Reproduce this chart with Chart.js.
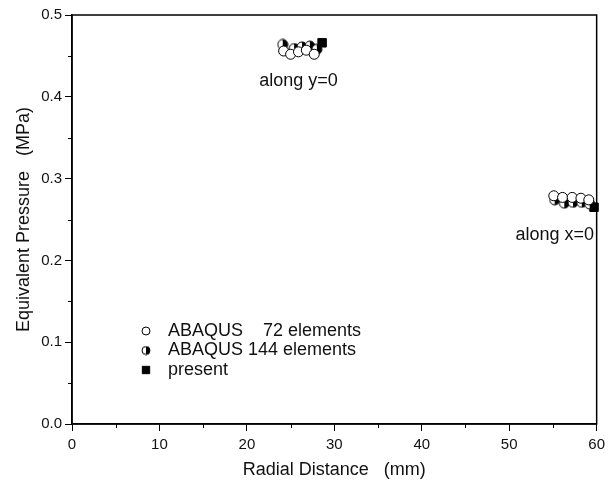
<!DOCTYPE html>
<html>
<head>
<meta charset="utf-8">
<script src="https://cdn.jsdelivr.net/npm/chart.js@4/dist/chart.umd.min.js"></script>
<style>
  html, body { margin: 0; padding: 0; background: #fff; }
  #wrap { width: 610px; height: 485px; }
</style>
</head>
<body>
<div id="wrap"><canvas id="c" width="610" height="485"></canvas></div>
<script>
// values
var abaqus72X = [24.2, 25.0, 25.9, 26.8, 27.7, 55.1, 56.1, 57.2, 58.2, 59.1];
var abaqus72Y = [0.456, 0.452, 0.455, 0.457, 0.452, 0.279, 0.277, 0.277, 0.276, 0.274];
var abaqus144X = [24.1, 25.4, 26.3, 27.2, 28.0, 55.2, 56.3, 57.3, 58.3, 59.2];
var abaqus144Y = [0.464, 0.459, 0.461, 0.462, 0.458, 0.274, 0.270, 0.271, 0.271, 0.269];
var presentX = [28.6, 59.7];
var presentY = [0.466, 0.265];

var seriesNames = ["ABAQUS    72 elements", "ABAQUS 144 elements", "present"];
var notes = [
	{ text: "along y=0", x: 25.9, y: 0.419 },
	{ text: "along x=0", x: 55.2, y: 0.231 },
];

var xMinor = [5, 15, 25, 35, 45, 55];
var yMinor = [0.05, 0.15, 0.25, 0.35, 0.45];

var FONT = "'Liberation Sans', Arial, sans-serif";

function toPoints(xs, ys) {
	return xs.map(function (x, i) { return { x: x, y: ys[i] }; });
}

// half filled circle marker (right half black)
function halfCircle(r) {
	var size = Math.ceil(r * 2 + 2);
	var cv = document.createElement("canvas");
	cv.width = size;
	cv.height = size;
	var g = cv.getContext("2d");
	var c = size / 2;
	g.fillStyle = "#fff";
	g.beginPath();
	g.arc(c, c, r, 0, Math.PI * 2);
	g.fill();
	g.fillStyle = "#000";
	g.beginPath();
	g.arc(c, c, r, -Math.PI / 2, Math.PI / 2);
	g.closePath();
	g.fill();
	g.strokeStyle = "#000";
	g.lineWidth = 1;
	g.beginPath();
	g.arc(c, c, r, 0, Math.PI * 2);
	g.stroke();
	return cv;
}

var halfMarker = halfCircle(5);
var halfMarkerSmall = halfCircle(4);

// frame, minor ticks, notes and legend
var extras = {
	id: "extras",
	afterDraw: function (chart) {
		var ctx = chart.ctx;
		var a = chart.chartArea;
		var xs = chart.scales.x;
		var ys = chart.scales.y;
		ctx.save();
		ctx.strokeStyle = "#000";
		ctx.lineWidth = 1.5;
		ctx.strokeRect(a.left, a.top, a.right - a.left, a.bottom - a.top);

		ctx.lineWidth = 1;
		ctx.beginPath();
		xMinor.forEach(function (v) {
			var px = Math.round(xs.getPixelForValue(v)) + 0.5;
			ctx.moveTo(px, a.bottom);
			ctx.lineTo(px, a.bottom + 4);
		});
		yMinor.forEach(function (v) {
			var py = Math.round(ys.getPixelForValue(v)) + 0.5;
			ctx.moveTo(a.left, py);
			ctx.lineTo(a.left - 4, py);
		});
		ctx.stroke();

		ctx.fillStyle = "#111";
		ctx.font = "18px " + FONT;
		ctx.textAlign = "center";
		ctx.textBaseline = "middle";
		notes.forEach(function (n) {
			ctx.fillText(n.text, xs.getPixelForValue(n.x), ys.getPixelForValue(n.y));
		});

		// legend
		var styles = [
			{ pointStyle: "circle", radius: 4, fill: "#fff" },
			{ pointStyle: halfMarkerSmall, radius: 4, fill: "#000" },
			{ pointStyle: "rect", radius: 5.2, fill: "#000" },
		];
		ctx.textAlign = "left";
		seriesNames.forEach(function (name, i) {
			var ly = 331 + i * 19.5;
			ctx.fillStyle = styles[i].fill;
			ctx.strokeStyle = "#000";
			ctx.lineWidth = 1;
			Chart.helpers.drawPoint(ctx, { pointStyle: styles[i].pointStyle, radius: styles[i].radius, borderWidth: 1, rotation: 0 }, 146, ly);
			ctx.fillStyle = "#111";
			ctx.fillText(name, 168, ly);
		});
		ctx.restore();
	},
};

new Chart(document.getElementById("c"), {
	type: "scatter",
	data: {
		datasets: [
			{
				label: seriesNames[0],
				data: toPoints(abaqus72X, abaqus72Y),
				pointStyle: "circle",
				pointRadius: 5,
				pointBackgroundColor: "#fff",
				pointBorderColor: "#000",
				pointBorderWidth: 1,
				clip: false,
			},
			{
				label: seriesNames[1],
				data: toPoints(abaqus144X, abaqus144Y),
				pointStyle: halfMarker,
				pointRadius: 5,
				clip: false,
			},
			{
				label: seriesNames[2],
				data: toPoints(presentX, presentY),
				pointStyle: "rect",
				pointRadius: 6,
				pointBackgroundColor: "#000",
				pointBorderColor: "#000",
				pointBorderWidth: 1,
				clip: false,
			},
		],
	},
	options: {
		responsive: false,
		animation: false,
		layout: { padding: { top: 15, right: 12, left: 9, bottom: 0 } },
		plugins: { legend: { display: false }, tooltip: { enabled: false } },
		scales: {
			x: {
				type: "linear",
				min: 0,
				max: 60,
				ticks: { stepSize: 10, color: "#111", font: { family: FONT, size: 15 }, padding: 5 },
				grid: { drawOnChartArea: false, tickLength: 7, color: "#000", tickWidth: 1 },
				border: { color: "#000", width: 1.5 },
				title: { display: true, text: "Radial Distance   (mm)", color: "#111", font: { family: FONT, size: 18 }, padding: { top: 4 } },
				afterFit: function (s) { s.height = 61; },
			},
			y: {
				type: "linear",
				min: 0,
				max: 0.5,
				ticks: {
					stepSize: 0.1,
					color: "#111",
					font: { family: FONT, size: 15 },
					padding: 3,
					callback: function (v) { return v.toFixed(1); },
				},
				grid: { drawOnChartArea: false, tickLength: 7, color: "#000", tickWidth: 1 },
				border: { color: "#000", width: 1.5 },
				title: { display: true, text: "Equivalent Pressure   (MPa)", color: "#111", font: { family: FONT, size: 18 }, padding: { bottom: 4 } },
				afterFit: function (s) { s.width = 63; },
			},
		},
	},
	plugins: [extras],
});
</script>
</body>
</html>
